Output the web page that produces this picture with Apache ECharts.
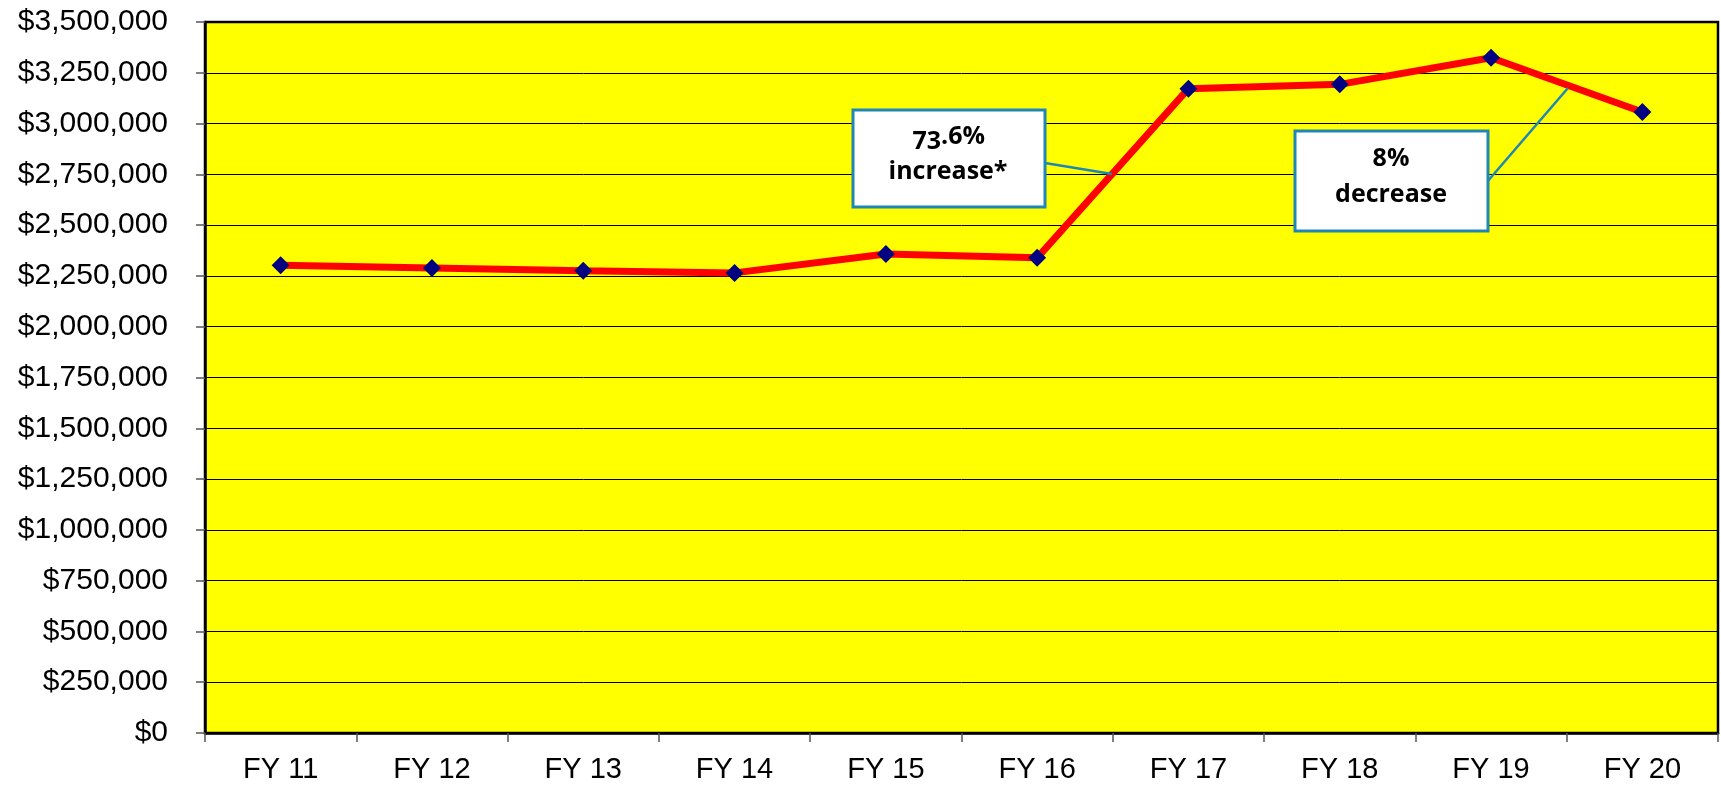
<!DOCTYPE html>
<html>
<head>
<meta charset="utf-8">
<script src="https://cdn.jsdelivr.net/npm/echarts@6/dist/echarts.min.js"></script>
<style>
html,body{margin:0;padding:0;background:#fff;}
#c{width:1721px;height:787px;}
</style>
</head>
<body>
<div id="c"></div>
<script>
var categories = ['FY 11','FY 12','FY 13','FY 14','FY 15','FY 16','FY 17','FY 18','FY 19','FY 20'];
var values = [2302000, 2289000, 2276000, 2265000, 2358000, 2339000, 3172000, 3193000, 3324000, 3057000];
var yMin = 0, yMax = 3500000, yStep = 250000;
var note1 = ['73', '.6%', 'increase*'];
var note2 = ['8%', 'decrease'];

var chart = echarts.init(document.getElementById('c'));
var boxColor = '#1E87B4';
var noteFont = 'bold 25px "Open Sans", "Noto Sans", sans-serif';
var axisFont = '"Liberation Sans", Arial, sans-serif';

chart.setOption({
  animation: false,
  backgroundColor: '#ffffff',
  grid: {left: 205, right: 3, top: 22, bottom: 54, show: true,
         backgroundColor: '#FFFF00', borderColor: '#000', borderWidth: 2.5},
  xAxis: {
    type: 'category', data: categories, boundaryGap: true,
    axisLine: {show: true, lineStyle: {color: '#000', width: 2.5}},
    axisTick: {show: true, length: 9, lineStyle: {color: '#555', width: 1.5}},
    axisLabel: {color: '#000', fontSize: 29, fontFamily: axisFont, margin: 22},
    splitLine: {show: false}
  },
  yAxis: {
    type: 'value', min: yMin, max: yMax, interval: yStep,
    axisLine: {show: true, lineStyle: {color: '#000', width: 2.5}},
    axisTick: {show: true, length: 9, lineStyle: {color: '#555', width: 1.5}},
    axisLabel: {color: '#000', fontSize: 30, fontFamily: axisFont, margin: 37,
      formatter: function(v){ return '$' + v.toLocaleString('en-US'); }},
    splitLine: {show: true, lineStyle: {color: '#000', width: 1}}
  },
  series: [{
    type: 'line', data: values,
    lineStyle: {color: '#FF0000', width: 7},
    symbol: 'diamond', symbolSize: 18,
    itemStyle: {color: '#000080'},
    z: 3
  }],
  graphic: [
    {type: 'line', shape: {x1: 1045, y1: 163, x2: 1112, y2: 174}, style: {stroke: boxColor, lineWidth: 2.5}, z: 10},
    {type: 'rect', shape: {x: 853, y: 110, width: 192, height: 97}, style: {fill: '#fff', stroke: boxColor, lineWidth: 3}, z: 11},
    {type: 'text', style: {text: note1[0], x: 941, y: 142, align: 'right', verticalAlign: 'middle', font: noteFont, fill: '#000'}, z: 12},
    {type: 'text', style: {text: note1[1], x: 941, y: 137, align: 'left', verticalAlign: 'middle', font: noteFont, fill: '#000'}, z: 12},
    {type: 'text', style: {text: note1[2], x: 948, y: 172, align: 'center', verticalAlign: 'middle', font: noteFont, fill: '#000'}, z: 12},
    {type: 'line', shape: {x1: 1487, y1: 182, x2: 1568, y2: 88}, style: {stroke: boxColor, lineWidth: 2.5}, z: 10},
    {type: 'rect', shape: {x: 1295, y: 131, width: 193, height: 100}, style: {fill: '#fff', stroke: boxColor, lineWidth: 3}, z: 11},
    {type: 'text', style: {text: note2[0], x: 1391, y: 159, align: 'center', verticalAlign: 'middle', font: noteFont, fill: '#000'}, z: 12},
    {type: 'text', style: {text: note2[1], x: 1391, y: 195, align: 'center', verticalAlign: 'middle', font: noteFont, fill: '#000'}, z: 12}
  ]
});
</script>
</body>
</html>
